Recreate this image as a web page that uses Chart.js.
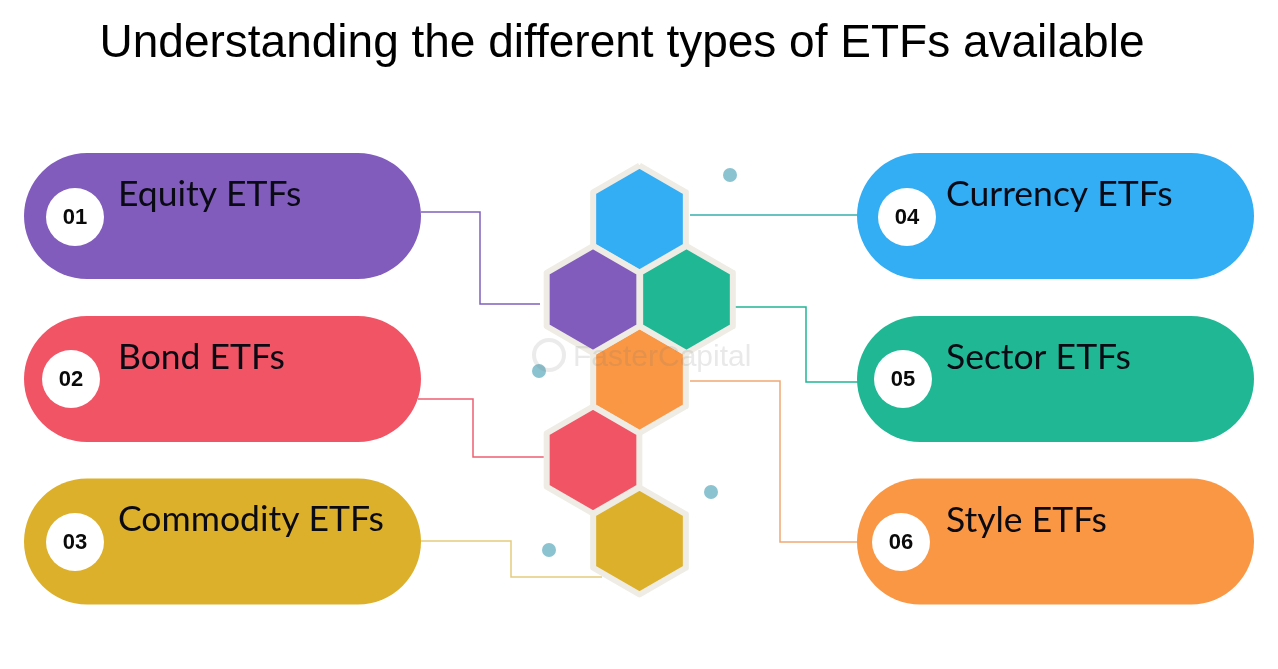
<!DOCTYPE html>
<html>
<head>
<meta charset="utf-8">
<title>Understanding the different types of ETFs available</title>
<script src="https://cdn.jsdelivr.net/npm/chart.js@4"></script>
<style>
  html, body { margin: 0; padding: 0; background: #fff; }
  canvas { display: block; }
</style>
</head>
<body>
<canvas id="etfChart" width="1278" height="669"></canvas>
<script>
// text
const chartTitle = 'Understanding the different types of ETFs available';
const etfNames = ['Equity ETFs', 'Bond ETFs', 'Commodity ETFs', 'Currency ETFs', 'Sector ETFs', 'Style ETFs'];
const etfNumbers = ['01', '02', '03', '04', '05', '06'];
const watermark = 'FasterCapital';

// colours, same order as the names
const etfColors = ['#815cbc', '#f15465', '#dcb02b', '#33adf3', '#20b795', '#f99745'];
const linkColors = ['#7f60bb', '#ee5f72', '#e6ca7c', '#35b0ac', '#22b596', '#efa873'];

// pills
const pillStartX = [87, 87, 87, 920, 920, 920];
const pillEndX = [358, 358, 358, 1191, 1191, 1191];
const pillY = [216, 379, 541.5, 216, 379, 541.5];

// number badges
const badgeX = [75, 71, 75, 907, 903, 901];
const badgeY = [217, 379, 542, 217, 379, 542];

// label anchors
const labelX = [118, 118, 118, 946, 946, 946];
const labelY = [206, 369, 531, 206, 369, 532];

// hexagon centres
const hexX = [593, 593, 639.5, 639.5, 686.5, 639.5];
const hexY = [299.5, 460, 541, 219, 299.5, 379.5];

// connector lines, pill to hexagon
const linkX = [
  [421, 480, 480, 540],
  [418, 473, 473, 548],
  [421, 511, 511, 602],
  [690, 858],
  [733, 806, 806, 858],
  [690, 780, 780, 858]
];
const linkY = [
  [212, 212, 304, 304],
  [399, 399, 457, 457],
  [541, 541, 577, 577],
  [215, 215],
  [307, 307, 382, 382],
  [381, 381, 542, 542]
];

// small dots
const dotX = [730, 539, 711, 549];
const dotY = [175, 371, 492, 550];

const HEX_RADIUS = 53.5;

function hexPoints(cx, cy) {
  const pts = [];
  for (let i = 0; i <= 6; i++) {
    const a = (Math.PI / 3) * i - Math.PI / 2;
    pts.push({ x: cx + HEX_RADIUS * Math.cos(a), y: cy + HEX_RADIUS * Math.sin(a) });
  }
  return pts;
}

const datasets = [];

// connectors at the back
linkX.forEach((xs, i) => {
  datasets.push({
    type: 'line',
    order: 50,
    data: xs.map((x, j) => ({ x: x, y: linkY[i][j] })),
    borderColor: linkColors[i],
    borderWidth: 1.5,
    pointRadius: 0,
    tension: 0
  });
});

// hexagons
hexX.forEach((x, i) => {
  datasets.push({
    type: 'line',
    order: 40,
    data: hexPoints(x, hexY[i]),
    borderColor: '#eeece4',
    backgroundColor: etfColors[i],
    borderWidth: 6,
    borderJoinStyle: 'round',
    fill: 'shape',
    pointRadius: 0,
    tension: 0
  });
});

// pills
pillY.forEach((y, i) => {
  datasets.push({
    type: 'line',
    order: 30,
    data: [{ x: pillStartX[i], y: y }, { x: pillEndX[i], y: y }],
    borderColor: etfColors[i],
    borderWidth: 126,
    borderCapStyle: 'round',
    pointRadius: 0,
    clip: false
  });
});

// badges
datasets.push({
  type: 'scatter',
  order: 20,
  data: badgeX.map((x, i) => ({ x: x, y: badgeY[i] })),
  pointRadius: 29,
  pointBackgroundColor: '#ffffff',
  pointBorderWidth: 0
});

// dots
datasets.push({
  type: 'scatter',
  order: 20,
  data: dotX.map((x, i) => ({ x: x, y: dotY[i] })),
  pointRadius: 7,
  pointBackgroundColor: '#8bc3d0',
  pointBorderWidth: 0
});

// watermark gear
datasets.push({
  type: 'scatter',
  order: 10,
  data: [{ x: 549, y: 355 }],
  pointRadius: 15,
  pointBackgroundColor: 'rgba(0,0,0,0)',
  pointBorderColor: 'rgba(130,130,130,0.16)',
  pointBorderWidth: 4
});

// title, names, numbers and the faint watermark
const textPlugin = {
  id: 'textPlugin',
  afterDatasetsDraw(chart) {
    const ctx = chart.ctx;
    const sx = chart.scales.x;
    const sy = chart.scales.y;
    ctx.save();
    ctx.textBaseline = 'alphabetic';

    ctx.fillStyle = '#000000';
    ctx.textAlign = 'center';
    ctx.font = '46px "Liberation Sans"';
    ctx.fillText(chartTitle, sx.getPixelForValue(622), sy.getPixelForValue(57));

    ctx.textAlign = 'left';
    ctx.font = '35.5px Lato';
    ctx.fillStyle = '#0a0a14';
    etfNames.forEach((name, i) => {
      ctx.fillText(name, sx.getPixelForValue(labelX[i]), sy.getPixelForValue(labelY[i]));
    });

    ctx.textAlign = 'center';
    ctx.textBaseline = 'middle';
    ctx.font = 'bold 22px "Liberation Sans"';
    ctx.fillStyle = '#0a0a0a';
    etfNumbers.forEach((num, i) => {
      ctx.fillText(num, sx.getPixelForValue(badgeX[i]), sy.getPixelForValue(badgeY[i] + 1));
    });

    ctx.textAlign = 'left';
    ctx.textBaseline = 'alphabetic';
    ctx.font = '30px "Liberation Sans"';
    ctx.fillStyle = 'rgba(120,120,120,0.16)';
    ctx.fillText(watermark, sx.getPixelForValue(573), sy.getPixelForValue(366));
    ctx.restore();
  }
};

new Chart(document.getElementById('etfChart'), {
  type: 'scatter',
  data: { datasets: datasets },
  plugins: [textPlugin],
  options: {
    responsive: false,
    animation: false,
    devicePixelRatio: 1,
    layout: { autoPadding: false, padding: 0 },
    plugins: {
      legend: { display: false },
      title: { display: false },
      tooltip: { enabled: false }
    },
    scales: {
      x: { type: 'linear', min: 0, max: 1278, display: false },
      y: { type: 'linear', min: 0, max: 669, reverse: true, display: false }
    }
  }
});
</script>
</body>
</html>
